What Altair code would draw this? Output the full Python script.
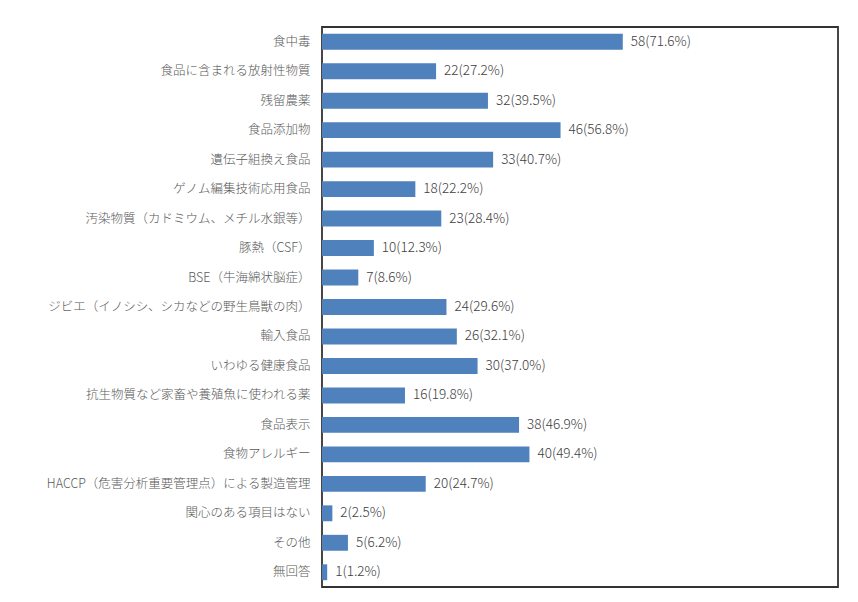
import altair as alt
import pandas as pd

categories = [
    "食中毒", "食品に含まれる放射性物質", "残留農薬", "食品添加物", "遺伝子組換え食品",
    "ゲノム編集技術応用食品", "汚染物質（カドミウム、メチル水銀等）", "豚熱（CSF）",
    "BSE（牛海綿状脳症）", "ジビエ（イノシシ、シカなどの野生鳥獣の肉）", "輸入食品",
    "いわゆる健康食品", "抗生物質など家畜や養殖魚に使われる薬", "食品表示", "食物アレルギー",
    "HACCP（危害分析重要管理点）による製造管理", "関心のある項目はない", "その他", "無回答",
]
counts = [58, 22, 32, 46, 33, 18, 23, 10, 7, 24, 26, 30, 16, 38, 40, 20, 2, 5, 1]
percents = [71.6, 27.2, 39.5, 56.8, 40.7, 22.2, 28.4, 12.3, 8.6, 29.6, 32.1, 37.0, 19.8, 46.9, 49.4, 24.7, 2.5, 6.2, 1.2]

df = pd.DataFrame({
    "cat": categories,
    "count": counts,
    "label": [f"{c}({p:.1f}%)" for c, p in zip(counts, percents)],
})

FONT = "Noto Sans CJK JP"

y = alt.Y("cat:N", sort=categories,
          scale=alt.Scale(paddingInner=0.46, paddingOuter=0.23),
          axis=alt.Axis(title=None, ticks=False, domain=False, labelFont=FONT,
                        labelFontSize=12.5, labelFontWeight=300, labelColor="#595959",
                        labelPadding=12, labelLimit=400, minExtent=309, maxExtent=309))
x = alt.X("count:Q", scale=alt.Scale(domain=[0, 99.5], nice=False, zero=True), axis=None)

bars = alt.Chart(df).mark_bar(color="#4F81BD").encode(x=x, y=y)
text = alt.Chart(df).mark_text(align="left", baseline="middle", dx=8, font=FONT,
                               fontSize=13.5, fontWeight=300, color="#404040").encode(x=x, y=y, text="label:N")

chart = (bars + text).properties(
    width=516, height=560,
    padding={"left": 5, "top": 19, "right": 5, "bottom": 5},
).configure_view(stroke="#333333", strokeWidth=1.8).configure_axis(grid=False)

chart.save("out.html", embed_options={"renderer": "svg", "actions": False})
